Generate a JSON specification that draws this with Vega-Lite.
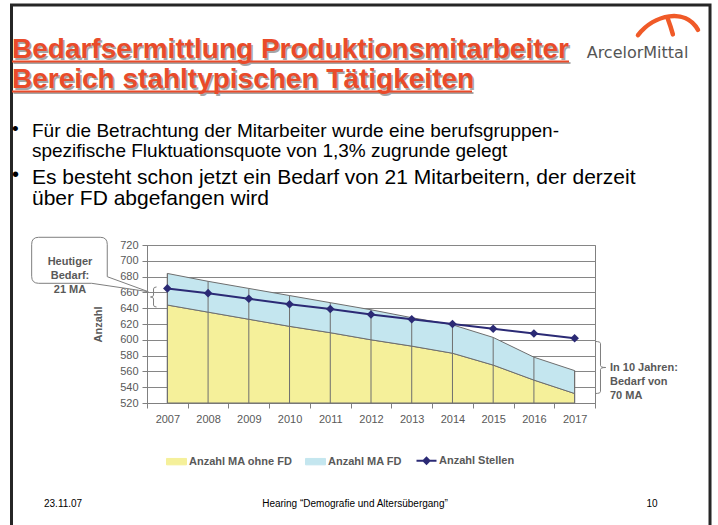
{
  "$schema": "https://vega.github.io/schema/vega-lite/v6.json",
  "width": 448,
  "height": 158,
  "autosize": {"type": "none"},
  "padding": {"left": 147, "top": 245, "right": 123, "bottom": 122},
  "background": "white",
  "config": {
    "font": "Liberation Sans",
    "view": {"stroke": "#808080", "strokeWidth": 1}
  },
  "data": {
    "values": [
      {"Jahr": 2007, "MA_ohne_FD": 644, "MA_gesamt": 684, "Stellen": 665},
      {"Jahr": 2008, "MA_ohne_FD": 635, "MA_gesamt": 674, "Stellen": 659},
      {"Jahr": 2009, "MA_ohne_FD": 626, "MA_gesamt": 665, "Stellen": 652},
      {"Jahr": 2010, "MA_ohne_FD": 617, "MA_gesamt": 656, "Stellen": 645},
      {"Jahr": 2011, "MA_ohne_FD": 609, "MA_gesamt": 647, "Stellen": 639},
      {"Jahr": 2012, "MA_ohne_FD": 600, "MA_gesamt": 638, "Stellen": 632},
      {"Jahr": 2013, "MA_ohne_FD": 592, "MA_gesamt": 628, "Stellen": 626},
      {"Jahr": 2014, "MA_ohne_FD": 583, "MA_gesamt": 619, "Stellen": 620},
      {"Jahr": 2015, "MA_ohne_FD": 568, "MA_gesamt": 603, "Stellen": 614},
      {"Jahr": 2016, "MA_ohne_FD": 549, "MA_gesamt": 578, "Stellen": 608},
      {"Jahr": 2017, "MA_ohne_FD": 532, "MA_gesamt": 561, "Stellen": 602}
    ]
  },
  "layer": [
    {
      "mark": {"type": "area", "stroke": "#6E6E6E", "strokeWidth": 1, "opacity": 1},
      "encoding": {
        "x": {
          "field": "Jahr", "type": "quantitative",
          "scale": {"domain": [2006.5, 2017.5], "nice": false, "zero": false},
          "axis": {
            "values": [2006.5, 2007.5, 2008.5, 2009.5, 2010.5, 2011.5, 2012.5, 2013.5, 2014.5, 2015.5, 2016.5, 2017.5],
            "tickCount": 20,
            "labelExpr": "datum.value < 2017 ? format(datum.value + 0.5, 'd') : ''",
            "labelOffset": 20.36, "labelFlush": false, "labelOverlap": false, "labelBound": false,
            "tickSize": 5, "tickColor": "#808080", "domainColor": "#808080",
            "labelColor": "#595959", "labelFontSize": 11, "labelPadding": 5,
            "grid": false, "title": null
          }
        },
        "y": {
          "field": "MA_ohne_FD", "type": "quantitative",
          "scale": {"domain": [520, 720], "nice": false, "zero": false},
          "axis": {
            "values": [520, 540, 560, 580, 600, 620, 640, 660, 680, 700, 720],
            "tickCount": 20,
            "labelOverlap": false,
            "grid": true, "gridColor": "#868686",
            "tickSize": 5, "tickColor": "#808080", "domainColor": "#808080",
            "labelColor": "#595959", "labelFontSize": 11, "labelPadding": 4,
            "title": "Anzahl", "titleFontSize": 11, "titleFontWeight": "bold",
            "titleColor": "#595959", "titlePadding": 16
          }
        },
        "y2": {"datum": 520},
        "color": {
          "datum": "Anzahl MA ohne FD", "type": "nominal",
          "scale": {
            "domain": ["Anzahl MA ohne FD", "Anzahl MA FD", "Anzahl Stellen"],
            "range": ["#F5F09A", "#C4E6EF", "#2B2A75"]
          },
          "legend": {
            "orient": "none", "legendX": 24, "legendY": 210,
            "direction": "horizontal", "title": null, "padding": 0,
            "labelFontSize": 11, "labelFontWeight": "bold", "labelColor": "#595959",
            "symbolSize": 400, "labelOffset": 7, "columnPadding": 10,
            "encoding": {
              "symbols": {
                "shape": {"value": {"expr": "datum.value === 'Anzahl Stellen' ? 'M-1,0H1M-0.3,0L0,-0.3L0.3,0L0,0.3Z' : 'M-1,-0.32H1V0.32H-1Z'"}},
                "fill": {"value": {"expr": "scale('color', datum.value)"}},
                "stroke": {"value": {"expr": "datum.value === 'Anzahl Stellen' ? '#2B2A75' : '#6E6E6E'"}},
                "strokeWidth": {"value": {"expr": "datum.value === 'Anzahl Stellen' ? 2 : 1"}},
                "opacity": {"value": 1},
                "fillOpacity": {"value": 1},
                "strokeOpacity": {"value": 1}
              }
            }
          }
        }
      }
    },
    {
      "mark": {"type": "area", "stroke": "#6E6E6E", "strokeWidth": 1, "opacity": 1},
      "encoding": {
        "x": {"field": "Jahr", "type": "quantitative"},
        "y": {"field": "MA_gesamt", "type": "quantitative"},
        "y2": {"field": "MA_ohne_FD"},
        "color": {"datum": "Anzahl MA FD", "type": "nominal"}
      }
    },
    {
      "mark": {"type": "rule", "color": "#6E6E6E", "strokeWidth": 1},
      "encoding": {
        "x": {"field": "Jahr", "type": "quantitative"},
        "y": {"field": "MA_gesamt", "type": "quantitative"},
        "y2": {"datum": 520}
      }
    },
    {
      "mark": {"type": "line", "strokeWidth": 2, "point": {"shape": "diamond", "size": 75, "filled": true, "opacity": 1}},
      "encoding": {
        "x": {"field": "Jahr", "type": "quantitative"},
        "y": {"field": "Stellen", "type": "quantitative"},
        "color": {"datum": "Anzahl Stellen", "type": "nominal"}
      }
    },
    {
      "data": {"values": [{}]},
      "mark": {"type": "rect", "fill": "transparent", "stroke": "#262626", "strokeWidth": 3},
      "encoding": {
        "x": {"datum": 2003.173, "type": "quantitative"},
        "x2": {"datum": 2020.324},
        "y": {"datum": 1023.8, "type": "quantitative"},
        "y2": {"datum": 352.9}
      }
    },
    {
      "data": {"values": [{}]},
      "mark": {"type": "text", "text": ["Bedarfsermittlung Produktionsmitarbeiter", "Bereich stahltypischen Tätigkeiten"], "align": "left", "baseline": "alphabetic", "fontSize": 28, "fontWeight": "bold", "color": "#A6A6A6", "lineHeight": 30},
      "encoding": {
        "x": {"datum": 2003.222, "type": "quantitative"},
        "y": {"datum": 954.81, "type": "quantitative"}
      }
    },
    {
      "data": {"values": [{}]},
      "mark": {"type": "rule", "color": "#A6A6A6", "strokeWidth": 2},
      "encoding": {
        "x": {"datum": 2003.222, "type": "quantitative"},
        "x2": {"datum": 2016.899},
        "y": {"datum": 950.38, "type": "quantitative"}
      }
    },
    {
      "data": {"values": [{}]},
      "mark": {"type": "rule", "color": "#A6A6A6", "strokeWidth": 2},
      "encoding": {
        "x": {"datum": 2003.222, "type": "quantitative"},
        "x2": {"datum": 2014.517},
        "y": {"datum": 912.4, "type": "quantitative"}
      }
    },
    {
      "data": {"values": [{}]},
      "mark": {"type": "text", "text": ["Bedarfsermittlung Produktionsmitarbeiter", "Bereich stahltypischen Tätigkeiten"], "align": "left", "baseline": "alphabetic", "fontSize": 28, "fontWeight": "bold", "color": "#E94B2A", "lineHeight": 30},
      "encoding": {
        "x": {"datum": 2003.185, "type": "quantitative"},
        "y": {"datum": 956.71, "type": "quantitative"}
      }
    },
    {
      "data": {"values": [{}]},
      "mark": {"type": "rule", "color": "#E94B2A", "strokeWidth": 2},
      "encoding": {
        "x": {"datum": 2003.185, "type": "quantitative"},
        "x2": {"datum": 2016.862},
        "y": {"datum": 952.28, "type": "quantitative"}
      }
    },
    {
      "data": {"values": [{}]},
      "mark": {"type": "rule", "color": "#E94B2A", "strokeWidth": 2},
      "encoding": {
        "x": {"datum": 2003.185, "type": "quantitative"},
        "x2": {"datum": 2014.48},
        "y": {"datum": 914.3, "type": "quantitative"}
      }
    },
    {
      "data": {"values": [{}]},
      "mark": {"type": "text", "text": "•", "align": "left", "baseline": "alphabetic", "fontSize": 19, "color": "#000000"},
      "encoding": {
        "x": {"datum": 2003.185, "type": "quantitative"},
        "y": {"datum": 859.87, "type": "quantitative"}
      }
    },
    {
      "data": {"values": [{}]},
      "mark": {"type": "text", "text": ["Für die Betrachtung der Mitarbeiter wurde eine berufsgruppen-", "spezifische Fluktuationsquote von 1,3% zugrunde gelegt"], "align": "left", "baseline": "alphabetic", "fontSize": 19, "color": "#000000", "lineHeight": 20},
      "encoding": {
        "x": {"datum": 2003.676, "type": "quantitative"},
        "y": {"datum": 856.08, "type": "quantitative"}
      }
    },
    {
      "data": {"values": [{}]},
      "mark": {"type": "text", "text": "•", "align": "left", "baseline": "alphabetic", "fontSize": 20, "color": "#000000"},
      "encoding": {
        "x": {"datum": 2003.185, "type": "quantitative"},
        "y": {"datum": 801.01, "type": "quantitative"}
      }
    },
    {
      "data": {"values": [{}]},
      "mark": {"type": "text", "text": ["Es besteht schon jetzt ein Bedarf von 21 Mitarbeitern, der derzeit", "über FD abgefangen wird"], "align": "left", "baseline": "alphabetic", "fontSize": 21, "color": "#000000", "lineHeight": 21},
      "encoding": {
        "x": {"datum": 2003.676, "type": "quantitative"},
        "y": {"datum": 797.22, "type": "quantitative"}
      }
    },
    {
      "data": {"values": [{}]},
      "mark": {"type": "point", "shape": "M-0.855,-0.462L0.171,-0.462Q0.288,-0.462 0.288,-0.345L0.288,0.195L0.972,0.445L0.028,0.305L-0.855,0.305Q-0.972,0.305 -0.972,0.188L-0.972,-0.345Q-0.972,-0.462 -0.855,-0.462Z", "size": 14400, "filled": true, "fill": "white", "stroke": "#7F7F7F", "strokeWidth": 1, "opacity": 1},
      "encoding": {
        "x": {"datum": 2005.1, "type": "quantitative"},
        "y": {"datum": 694.68, "type": "quantitative"}
      }
    },
    {
      "data": {"values": [{}]},
      "mark": {"type": "text", "text": ["Heutiger", "Bedarf:", "21 MA"], "align": "center", "baseline": "middle", "fontSize": 11, "fontWeight": "bold", "color": "#595959", "lineHeight": 14},
      "encoding": {
        "x": {"datum": 2004.609, "type": "quantitative"},
        "y": {"datum": 698.48, "type": "quantitative"}
      }
    },
    {
      "data": {"values": [{}]},
      "mark": {"type": "point", "shape": "M0.3,-1Q0,-1 0,-0.8L0,-0.2Q0,0 -0.3,0Q0,0 0,0.2L0,0.8Q0,1 0.3,1", "size": 400, "filled": false, "stroke": "#7F7F7F", "strokeWidth": 1, "opacity": 1},
      "encoding": {
        "x": {"datum": 2006.66, "type": "quantitative"},
        "y": {"datum": 654.18, "type": "quantitative"}
      }
    },
    {
      "data": {"values": [{}]},
      "mark": {"type": "point", "shape": "M-0.2,-1Q0,-1 0,-0.92L0,-0.08Q0,0 0.2,0Q0,0 0,0.08L0,0.92Q0,1 -0.2,1", "size": 2704, "filled": false, "stroke": "#7F7F7F", "strokeWidth": 1, "opacity": 1},
      "encoding": {
        "x": {"datum": 2017.635, "type": "quantitative"},
        "y": {"datum": 564.94, "type": "quantitative"}
      }
    },
    {
      "data": {"values": [{}]},
      "mark": {"type": "text", "text": ["In 10 Jahren:", "Bedarf von", "70 MA"], "align": "left", "baseline": "middle", "fontSize": 11, "fontWeight": "bold", "color": "#595959", "lineHeight": 14},
      "encoding": {
        "x": {"datum": 2017.868, "type": "quantitative"},
        "y": {"datum": 564.3, "type": "quantitative"}
      }
    },
    {
      "data": {"values": [{}]},
      "mark": {"type": "point", "shape": "M-0.857,0.29C-0.4,-0.3 0.5,-0.5 0.857,0.14M-0.02,-0.22Q0.08,0.05 0.14,0.27", "size": 4900, "filled": false, "stroke": "#F05A28", "strokeWidth": 4.5, "strokeCap": "round", "opacity": 1},
      "encoding": {
        "x": {"datum": 2019.292, "type": "quantitative"},
        "y": {"datum": 998.48, "type": "quantitative"}
      }
    },
    {
      "data": {"values": [{}]},
      "mark": {"type": "text", "text": "ArcelorMittal", "font": "DejaVu Sans", "align": "center", "baseline": "alphabetic", "fontSize": 16, "color": "#555555"},
      "encoding": {
        "x": {"datum": 2018.544, "type": "quantitative"},
        "y": {"datum": 956.71, "type": "quantitative"}
      }
    },
    {
      "data": {"values": [{}]},
      "mark": {"type": "text", "text": "23.11.07", "align": "left", "baseline": "middle", "fontSize": 10, "color": "#000000"},
      "encoding": {
        "x": {"datum": 2003.971, "type": "quantitative"},
        "y": {"datum": 392.15, "type": "quantitative"}
      }
    },
    {
      "data": {"values": [{}]},
      "mark": {"type": "text", "text": "Hearing “Demografie und Altersübergang”", "align": "center", "baseline": "middle", "fontSize": 10, "color": "#000000"},
      "encoding": {
        "x": {"datum": 2011.607, "type": "quantitative"},
        "y": {"datum": 392.15, "type": "quantitative"}
      }
    },
    {
      "data": {"values": [{}]},
      "mark": {"type": "text", "text": "10", "align": "center", "baseline": "middle", "fontSize": 10, "color": "#000000"},
      "encoding": {
        "x": {"datum": 2018.9, "type": "quantitative"},
        "y": {"datum": 392.15, "type": "quantitative"}
      }
    }
  ]
}
